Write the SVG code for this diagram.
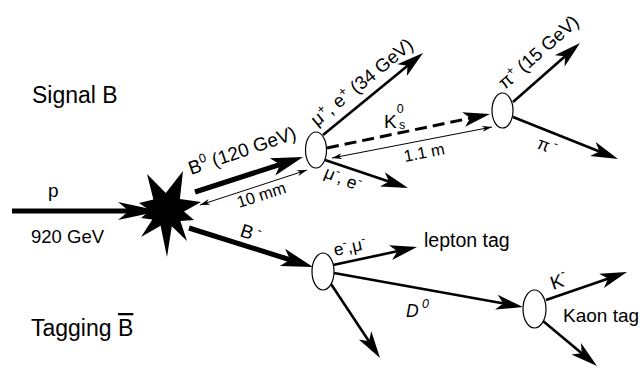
<svg xmlns="http://www.w3.org/2000/svg" xmlns:xlink="http://www.w3.org/1999/xlink" width="640" height="368" viewBox="0 0 640 368">
<style>
text{font-family:"Liberation Sans",Arial,sans-serif;fill:#000}
.t19{font-size:19px}
.t18{font-size:18.5px}
.t17{font-size:17.5px}
.t16{font-size:16.5px}
.t23{font-size:23px}
.sup{font-size:12.5px}
.thick{stroke:#000;stroke-width:5;fill:none}
.mid{stroke:#000;stroke-width:2.6;fill:none}
.thin{stroke:#000;stroke-width:1;fill:none;marker-start:url(#sm);marker-end:url(#sm)}
.dash{stroke:#000;stroke-width:3;fill:none;stroke-dasharray:12 6}
.v{fill:#fff;stroke:#000;stroke-width:1.2}
</style>
<defs>
<path id="hP" d="M0,0 L-42,-9 L-31,0 L-42,9 Z"/>
<path id="hL" d="M0,0 L-32,-9 L-24,0 L-32,9 Z"/>
<path id="hM" d="M0,0 L-27,-7.5 L-20,0 L-27,7.5 Z"/>
<marker id="sm" viewBox="0 0 10 6" refX="10" refY="3" markerWidth="10" markerHeight="6" markerUnits="userSpaceOnUse" orient="auto-start-reverse">
<path d="M0,0 L10,3 L0,6 L3,3 Z"/>
</marker>
</defs>

<g id="labels">
<text class="t23" x="32" y="103">Signal B</text>
<text class="t23" x="31" y="336">Tagging <tspan text-decoration="overline">B</tspan></text>
</g>

<g id="connectors">
<line class="thick" x1="12" y1="211" x2="140" y2="211"/>
<use href="#hP" transform="translate(160,211)"/>
<line class="thick" x1="195" y1="192" x2="282.1" y2="163.8"/>
<use href="#hL" transform="translate(303,157) rotate(-17.96)"/>
<line class="thick" x1="189" y1="228" x2="293.9" y2="261"/>
<use href="#hL" transform="translate(313,267) rotate(17.46)"/>
<line class="mid" x1="323" y1="135" x2="409.1" y2="64.4"/>
<use href="#hM" transform="translate(423,53) rotate(-39.35)"/>
<line class="mid" x1="325" y1="160" x2="391" y2="182.2"/>
<use href="#hM" transform="translate(408,188) rotate(18.64)"/>
<line class="dash" x1="327" y1="148" x2="472.4" y2="117.7"/>
<use href="#hM" transform="translate(490,114) rotate(-11.78)"/>
<line class="mid" x1="513" y1="102" x2="566.5" y2="54.9"/>
<use href="#hM" transform="translate(580,43) rotate(-41.37)"/>
<line class="mid" x1="513" y1="117" x2="601.3" y2="152.3"/>
<use href="#hM" transform="translate(618,159) rotate(21.8)"/>
<line class="mid" x1="333" y1="265" x2="399.4" y2="250.8"/>
<use href="#hM" transform="translate(417,247) rotate(-12.09)"/>
<line class="mid" x1="334" y1="273" x2="505.3" y2="303.8"/>
<use href="#hM" transform="translate(523,307) rotate(10.2)"/>
<line class="mid" x1="331" y1="284" x2="370.1" y2="343"/>
<use href="#hM" transform="translate(380,358) rotate(56.5)"/>
<line class="mid" x1="546" y1="300" x2="610" y2="277.9"/>
<use href="#hM" transform="translate(627,272) rotate(-19.07)"/>
<line class="mid" x1="543" y1="321" x2="583.2" y2="354.5"/>
<use href="#hM" transform="translate(597,366) rotate(39.8)"/>
<line class="thin" x1="200" y1="205" x2="307" y2="170"/>
<line class="thin" x1="332" y1="158" x2="492" y2="127"/>
</g>

<g id="collision">
<polygon points="147,174 165.8,193 183,171 179.9,198.9 201,202 184,211.5 194,220 180.4,220.9 187,241 171.8,226.3 167,257 160.6,225.8 141,237 152.4,219.4 141,218 150,210.4 139,203 153.4,199.6"/>
</g>

<g id="vertexB0"><ellipse class="v" cx="316" cy="150" rx="10.5" ry="18"/></g>
<g id="vertexK0"><ellipse class="v" cx="502.5" cy="110.5" rx="10.5" ry="17.5"/></g>
<g id="vertexBm"><ellipse class="v" cx="323" cy="271.5" rx="11" ry="18.5"/></g>
<g id="vertexD0"><ellipse class="v" cx="534.5" cy="309" rx="11.5" ry="19"/></g>

<g id="texts">
<text class="t19" x="48" y="197">p</text>
<text class="t18" x="31" y="243">920 GeV</text>
<text class="t19" transform="translate(191,175) rotate(-19)">B<tspan class="sup" dy="-8">0</tspan><tspan dy="8"> (120 GeV)</tspan></text>
<text class="t16" transform="translate(239,208) rotate(-18)">10 mm</text>
<text class="t18" transform="translate(317,127) rotate(-39.4)">μ<tspan class="sup" dy="-7">+</tspan><tspan dy="7">, e</tspan><tspan class="sup" dy="-7">+</tspan><tspan dy="7"> (34 GeV)</tspan></text>
<text class="t19" x="384" y="128">K<tspan class="sup" dy="-15">0</tspan><tspan class="sup" x="399" dy="16">s</tspan></text>
<text class="t16" transform="translate(405,162) rotate(-11)">1.1 m</text>
<text class="t17" transform="translate(323,177) rotate(22)">μ<tspan class="sup" dy="-7">-</tspan><tspan dy="7">, e</tspan><tspan class="sup" dy="-7">-</tspan></text>
<text class="t18" transform="translate(505,90) rotate(-41.5)">π<tspan class="sup" dy="-7">+</tspan><tspan dy="7"> (15 GeV)</tspan></text>
<text class="t17" transform="translate(536,148) rotate(20)">π<tspan class="sup" dy="-7"> -</tspan></text>
<text class="t19" transform="translate(239,236) rotate(18)">B<tspan class="sup" dy="-8"> -</tspan></text>
<text class="t17" transform="translate(335,256) rotate(-12)">e<tspan class="sup" dy="-7">-</tspan><tspan dy="7">,μ</tspan><tspan class="sup" dy="-7">-</tspan></text>
<text x="424" y="247" font-size="19.5">lepton tag</text>
<text class="t17" x="406" y="317" font-style="italic">D<tspan class="sup" dy="-9"> 0</tspan></text>
<text class="t19" transform="translate(553,290) rotate(-19)">K<tspan class="sup" dy="-10">-</tspan></text>
<text x="563" y="322" font-size="19">Kaon tag</text>
</g>
</svg>
